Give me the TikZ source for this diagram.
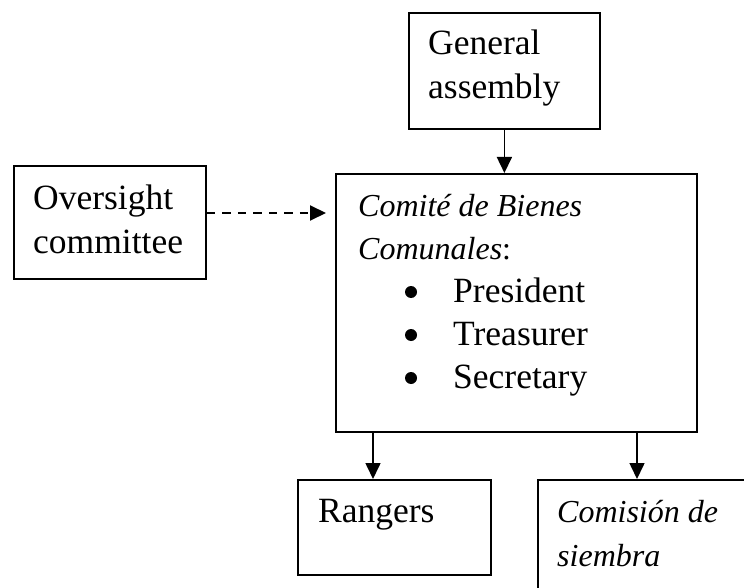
\documentclass[tikz,border=0pt]{standalone}
\usepackage{fontspec}
\setmainfont{Liberation Serif}
\usetikzlibrary{arrows.meta}
\begin{document}
\begin{tikzpicture}[x=1pt,y=-1pt,
  box/.style={draw, line width=1.8pt, inner sep=0pt, anchor=north west},
  lbl/.style={anchor=base west, inner sep=0pt, font=\fontsize{35.5}{43}\selectfont},
  ilbl/.style={lbl, font=\fontsize{32}{43}\selectfont\itshape},
  link/.style={line width=1.6pt, -{Triangle[width=15pt,length=16pt]}},
  dlink/.style={link, line width=2pt, dash pattern=on 8.5pt off 7pt},
  dot/.style={circle, fill, inner sep=0pt, minimum size=12pt}]
\useasboundingbox (0,0) rectangle (744,588);
\clip (0,0) rectangle (744,588);

% boxes
\node[box, minimum width=191pt, minimum height=116pt] (ga)  at (408,12)  {};
\node[box, minimum width=192pt, minimum height=113pt] (ov)  at (13,165)  {};
\node[box, minimum width=361pt, minimum height=258pt] (cbc) at (335,173) {};
\node[box, minimum width=193pt, minimum height=95pt]  (rg)  at (297,479) {};
\node[box, minimum width=260pt, minimum height=160pt] (cs)  at (537,479) {};

% labels
\node[lbl] (ga1) at (428,55)  {General};
\node[lbl] (ga2) at (428,99)  {assembly};
\node[lbl] (ov1) at (33,210)  {Oversight};
\node[lbl] (ov2) at (33,253)  {committee};
\node[ilbl] (cb1) at (358,216) {Comité de Bienes};
\node[ilbl] (cb2) at (358,259) {Comunales\/\upshape:};
\node[dot] (b1) at (411,292) {};
\node[dot] (b2) at (411,335) {};
\node[dot] (b3) at (411,378) {};
\node[lbl] (it1) at (453,302) {President};
\node[lbl] (it2) at (453,345) {Treasurer};
\node[lbl] (it3) at (453,388) {Secretary};
\node[lbl] (rg1) at (318,522) {Rangers};
\node[ilbl] (cs1) at (557,522) {Comisión de};
\node[ilbl] (cs2) at (557,566) {siembra};

% connectors
\coordinate (dashy) at (0,213);
\coordinate (c1) at (373,0);
\coordinate (c2) at (637,0);
\draw[dlink] (ov.east |- dashy) -- ([xshift=-9pt]cbc.west |- dashy);
\draw[link] (ga.south) -- (cbc.north -| ga.south);
\draw[link] (cbc.south -| c1) -- (rg.north -| c1);
\draw[link] (cbc.south -| c2) -- (cs.north -| c2);
\end{tikzpicture}
\end{document}
